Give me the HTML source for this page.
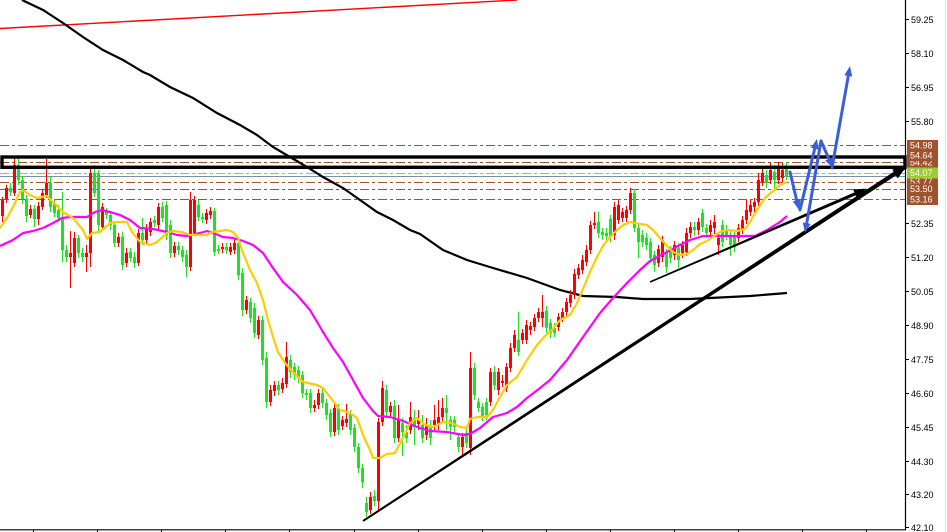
<!DOCTYPE html>
<html>
<head>
<meta charset="utf-8">
<style>
html,body{margin:0;padding:0;background:#fff;}
svg{display:block;}
text{font-family:"Liberation Sans",Arial,sans-serif;font-size:9px;}
</style>
</head>
<body>
<svg width="947" height="532" viewBox="0 0 947 532" xmlns="http://www.w3.org/2000/svg">
<rect x="0" y="0" width="947" height="532" fill="#fff"/>

<!-- red line -->
<line x1="0" y1="28.5" x2="517" y2="0" stroke="#ff0000" stroke-width="1.4"/>

<!-- horizontal levels -->
<g fill="none" stroke-width="1">
<line x1="0" y1="145.5" x2="905" y2="145.5" stroke="#a0522d" stroke-dasharray="9,3,3,3"/>
<line x1="0" y1="162.5" x2="905" y2="162.5" stroke="#a0522d" stroke-dasharray="9,3,3,3"/>
<line x1="0" y1="173.5" x2="905" y2="173.5" stroke="#9acd32" stroke-dasharray="9,3,3,3"/>
<line x1="0" y1="176.5" x2="905" y2="176.5" stroke="#7f8fa0"/>
<line x1="0" y1="182.5" x2="905" y2="182.5" stroke="#a0522d" stroke-dasharray="9,3,3,3"/>
<line x1="0" y1="189.5" x2="905" y2="189.5" stroke="#a0522d" stroke-dasharray="9,3,3,3"/>
<line x1="0" y1="199.5" x2="905" y2="199.5" stroke="#a0522d" stroke-dasharray="9,3,3,3"/>
</g>

<!-- MA200 black -->
<polyline fill="none" stroke="#000" stroke-width="2.2" points="22,0 43,10 63,23 83,37 103,50 123,60 143,72 150,75 170,87 193,98 217,113 240,125 257,135 273,147 290,157 307,167 323,177 343,188 360,200 377,212 393,220 410,230 420,234 443,250 467,260 493,268 527,278 560,290 583,296 617,297 643,299 690,299 710,298 750,296 787,293"/>

<!-- candles -->
<g transform="translate(0.5,0)" fill="none" stroke-linecap="butt">
<path stroke="#ff0000" stroke-width="1" d="M2 197V222M6 185V203M14 158V196M30 205V218M38 202V225M42 190V210M46 159V198M70 231V288M74 232V267M86 245V272M90 168V267M102 203V230M118 233V247M126 248V267M138 229V266M146 224V244M150 218V236M158 203V229M174 242V257M190 192V271M194 196V236M206 209V224M210 207V219M222 243V253M230 243V255M234 239V254M246 296V314M258 316V339M270 385V406M274 381V396M282 378V393M286 342V388M314 400V412M318 389V409M334 404V436M342 416V430M346 404V427M370 492V514M378 418V510M382 381V426M390 402V416M398 405V442M410 402V434M418 410V430M426 418V440M434 405V430M438 400V430M442 398V421M462 433V457M470 352V455M490 368V406M498 368V395M502 375V387M506 363V392M510 343V372M514 330V352M522 329V344M526 320V344M530 322V335M534 314V331M538 308V322M542 295V327M558 313V331M562 308V322M566 298V316M570 290V307M574 269V299M578 264V279M582 255V274M586 245V266M590 221V254M594 212V229M614 202V240M618 200V224M622 208V222M626 206V222M630 188V214M658 245V267M662 236V262M674 241V260M682 241V258M686 228V256M690 222V238M698 218V235M710 220V236M714 215V234M718 233V255M738 224V242M742 216V234M746 200V224M750 200V216M754 198V212M758 173V206M762 168V186M770 163V184M778 162V184M782 163V182"/>
<path stroke="#ff0000" stroke-width="3" d="M2 200V216M6 188V199M14 165V193M30 209V215M38 206V219M42 193V207M46 183V195M70 253V257M74 238V263M86 253V257M90 173V253M102 207V227M118 237V243M126 253V263M138 233V263M146 228V240M150 222V232M158 207V225M174 246V253M190 200V267M194 200V233M206 213V220M210 211V215M222 247V249M230 247V252M234 243V250M246 300V310M258 320V335M270 390V402M274 385V391M282 383V389M286 357V384M314 405V408M318 393V405M334 408V432M342 420V426M346 419V423M370 497V510M378 422V501M382 388V422M390 406V412M398 420V438M410 417V430M418 420V424M426 425V435M434 420V425M438 417V425M442 408V417M462 437V447M470 368V448M490 372V402M498 372V390M502 381V383M506 367V388M510 348V368M514 335V348M522 333V340M526 325V340M530 326V330M534 318V327M538 312V318M542 312V318M558 317V327M562 312V318M566 302V312M570 295V303M574 274V295M578 268V275M582 260V270M586 250V262M590 225V250M594 223V225M614 207V235M618 205V220M622 212V218M626 210V218M630 193V210M658 249V263M662 240V257M674 245V255M682 245V253M686 233V252M690 227V233M698 222V230M710 225V232M714 222V228M718 238V245M738 228V238M742 220V230M746 210V220M750 205V212M754 202V207M758 180V202M762 173V182M770 170V180M778 168V180M782 170V178"/>
<path stroke="#22e022" stroke-width="1" d="M10 183V196M18 158V185M22 176V204M26 195V222M34 205V227M50 176V212M54 199V217M58 205V222M62 192V262M66 245V262M78 235V258M82 248V262M94 165V197M98 170V232M106 208V219M110 211V230M114 221V247M122 232V270M130 248V262M134 252V268M142 218V245M154 216V227M162 202V222M166 201V240M170 220V258M178 242V255M182 246V262M186 250V277M198 200V221M202 213V223M214 208V256M218 245V254M226 243V254M238 239V280M242 268V316M250 298V323M254 303V338M262 316V365M266 352V408M278 381V395M290 355V378M294 363V380M298 366V383M302 371V398M306 389V400M310 389V413M322 389V408M326 399V420M330 409V437M338 404V435M350 410V435M354 424V452M358 443V473M362 464V488M366 497V517M374 490V506M386 385V418M394 400V443M402 418V456M406 425V443M414 410V445M422 415V443M430 420V445M446 395V430M450 416V440M454 416V432M458 433V452M466 429V448M474 363V400M478 398V412M482 403V421M486 398V420M494 366V390M518 312V356M546 306V333M550 319V338M554 323V337M598 212V238M602 228V240M606 228V240M610 215V242M634 189V232M638 224V258M642 230V247M646 233V250M650 238V263M654 251V272M666 249V273M670 246V263M678 243V268M694 222V236M702 209V232M706 224V238M722 220V247M726 225V240M730 230V256M734 232V252M766 170V188M774 165V190M786 162V180"/>
<path stroke="#22e022" stroke-width="3" d="M10 188V192M18 165V180M22 180V199M26 199V216M34 209V219M50 183V207M54 203V213M58 210V218M62 218V250M66 250V257M78 238V253M82 253V257M94 173V193M98 173V225M106 212V215M110 215V225M114 225V243M122 237V265M130 252V258M134 257V263M142 233V240M154 220V223M162 207V218M166 205V235M170 225V253M178 246V250M182 250V257M186 255V267M198 205V217M202 217V219M214 211V252M218 249V251M226 247V250M238 243V275M242 273V310M250 302V318M254 308V333M262 320V360M266 358V402M278 385V390M290 360V372M294 367V375M298 370V378M302 375V393M306 393V395M310 393V408M322 393V403M326 403V415M330 413V432M338 408V430M350 414V430M354 428V447M358 447V468M362 468V482M366 503V512M374 496V501M386 390V412M394 406V438M402 423V432M406 432V438M414 418V427M422 425V438M430 427V438M446 408V413M450 420V427M454 420V427M458 437V447M466 433V443M474 368V395M478 402V408M482 407V417M486 402V415M494 372V385M518 340V352M546 311V328M550 323V333M554 328V333M598 222V233M602 232V235M606 233V236M610 219V237M634 193V228M638 228V242M642 235V242M646 238V245M650 242V258M654 255V265M666 253V267M670 250V258M678 248V260M694 227V230M702 213V227M706 228V233M722 225V242M726 230V236M730 235V245M734 237V247M766 175V183M774 172V180M786 168V176"/>
</g>

<!-- magenta MA -->
<polyline fill="none" stroke="#ff00ff" stroke-width="2.2" stroke-linejoin="round" points="0,246 13,240 23,233 33,231 43,228 53,223 62,218 70,217 87,217 95,212 102,210 110,212 120,215 130,220 140,228 153,229 167,232 177,235 187,236 200,233 207,231 213,233 223,237 233,238 243,241 253,245 263,253 273,268 283,282 297,295 310,310 323,332 333,348 343,362 353,380 363,398 373,411 378,416 390,417 403,421 417,427 430,431 447,432 463,435 470,434 480,428 493,417 507,413 517,407 527,398 540,388 550,380 567,360 583,337 600,313 613,298 627,283 640,270 650,261 667,252 680,245 690,240 703,236 755,236 767,230 780,222 787,216"/>

<!-- yellow MA -->
<polyline fill="none" stroke="#ffcc00" stroke-width="2.2" stroke-linejoin="round" points="0,228 7,218 13,207 20,192 23,190 30,195 37,198 47,196 53,202 63,212 73,218 83,230 87,239 92,233 100,232 110,223 117,222 127,222 132,232 140,242 150,245 157,242 167,233 173,231 182,232 190,235 207,235 212,232 220,231 227,230 233,232 238,238 243,253 250,270 257,283 263,300 268,320 273,337 278,352 285,363 293,372 303,382 317,385 323,388 330,397 340,410 350,413 357,418 363,435 370,450 373,458 380,458 387,454 395,453 402,440 410,423 417,418 425,425 433,427 443,422 452,423 460,427 467,428 470,419 477,417 487,417 493,410 500,397 507,385 517,377 527,360 537,345 545,336 552,330 560,320 570,315 577,303 583,289 590,272 597,257 603,246 610,237 617,230 623,225 630,222 640,224 647,225 653,230 660,238 667,246 673,252 680,255 687,254 693,250 700,244 707,241 720,232 727,230 737,231 745,229 750,222 757,210 765,198 773,191 780,185 787,182"/>

<!-- black rectangle zone -->
<rect x="2" y="157" width="903" height="10.3" fill="none" stroke="#000" stroke-width="3.4"/>

<!-- trend lines -->
<polygon fill="#000" points="362.4,520.2 363.6,521.8 906.2,168.8 903.8,165.2"/>
<polygon fill="#000" points="907,165.5 897.7,178.5 892.3,169.6"/>
<polygon fill="#000" points="649.7,281.3 650.3,282.7 864.6,191.5 863.4,188.5"/>
<polygon fill="#000" points="867,188.8 856.8,198 853.2,189.4"/>

<!-- blue arrows -->
<g stroke="#3a5fd6" stroke-width="3" fill="none" stroke-linecap="round">
<line x1="790" y1="172" x2="796.7" y2="200.3"/>
<line x1="800" y1="210" x2="814.7" y2="148.7"/>
<line x1="821" y1="141" x2="806.7" y2="223.2"/>
<line x1="821" y1="141" x2="828.9" y2="158.9"/>
<line x1="832" y1="168" x2="848.3" y2="75.9"/>
</g>
<g fill="#3a5fd6">
<polygon points="799,210 800.6,199.4 792.8,201.2"/>
<polygon points="817,139 818.6,149.6 810.8,147.8"/>
<polygon points="805,233 810.6,223.9 802.8,222.5"/>
<polygon points="833,168 832.6,157.3 825.2,160.5"/>
<polygon points="850,66 852.2,76.6 844.4,75.2"/>
</g>

<!-- axes -->
<line x1="905.5" y1="0" x2="905.5" y2="530" stroke="#000" stroke-width="1.2"/>
<line x1="0" y1="529.8" x2="906" y2="529.8" stroke="#000" stroke-width="1.2"/>
<line x1="945.5" y1="0" x2="945.5" y2="532" stroke="#e4e4e4" stroke-width="1"/>
<g stroke="#000" stroke-width="1">
<path d="M33.5 530V533M97.5 530V533M161.5 530V533M225.5 530V533M289.5 530V533M354.5 530V533M418.5 530V533M482.5 530V533M546.5 530V533M610.5 530V533M674.5 530V533M738.5 530V533M802.5 530V533M866.5 530V533"/>
<path d="M905 19.5H909M905 53.5H909M905 87.5H909M905 121.5H909M905 223.5H909M905 257.5H909M905 291.5H909M905 325.5H909M905 359.5H909M905 393.5H909M905 427.5H909M905 461.5H909M905 494.5H909M905 527.5H909"/>
</g>
<g fill="#000">
<text x="911" y="23">59.25</text>
<text x="911" y="57">58.10</text>
<text x="911" y="91">56.95</text>
<text x="911" y="125">55.80</text>
<text x="911" y="227">52.35</text>
<text x="911" y="261">51.20</text>
<text x="911" y="295">50.05</text>
<text x="911" y="329">48.90</text>
<text x="911" y="363">47.75</text>
<text x="911" y="397">46.60</text>
<text x="911" y="431">45.45</text>
<text x="911" y="465">44.30</text>
<text x="911" y="498">43.20</text>
<text x="911" y="531">42.10</text>
</g>

<!-- price boxes -->
<g fill="#fff">
<rect x="907" y="140" width="31" height="11" fill="#a0522d"/>
<text x="910" y="148.5">54.98</text>
<rect x="907" y="157" width="31" height="11" fill="#a0522d"/>
<text x="910" y="165.5">54.42</text>
<rect x="907" y="150" width="31" height="11" fill="#a0522d"/>
<text x="910" y="158.5">54.64</text>
<rect x="907" y="176" width="31" height="11" fill="#a0522d"/>
<text x="910" y="184.5">53.77</text>
<rect x="907" y="167.5" width="31" height="11" fill="#9acd32"/>
<text x="910" y="176.2">54.07</text>
<rect x="907" y="183.5" width="31" height="11" fill="#a0522d"/>
<text x="910" y="192.2">53.50</text>
<rect x="907" y="194" width="31" height="11" fill="#a0522d"/>
<text x="910" y="202.5">53.16</text>
</g>
</svg>
</body>
</html>
